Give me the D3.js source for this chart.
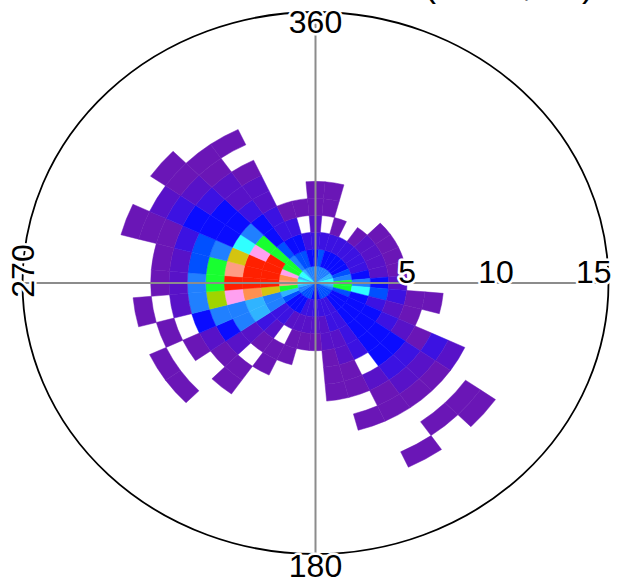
<!DOCTYPE html>
<html>
<head>
<meta charset="utf-8">
<script src="https://cdn.jsdelivr.net/npm/d3@7"></script>
<style>
  html, body { margin: 0; padding: 0; background: #fff; }
  svg { display: block; }
</style>
</head>
<body>
<svg id="chart" width="618" height="584"></svg>
<script>
// ---- data ----
const directions = [0,10,20,30,40,50,60,70,80,90,100,110,120,130,140,150,160,170,
                    180,190,200,210,220,230,240,250,260,270,280,290,300,310,320,330,340,350];
const binWidth = 15 / 16;          // radial bin width (speed units)
const sectorWidth = 10;            // degrees
const radialTicks = [5, 10, 15];
const compassLabels = ["360", "270", "180"];
const compassAngles = [0, 270, 180];
const titleText = "(knots, dir)";
// colour level of every (direction, speed-bin) cell; 0 = empty
const levels = [
  [7,4,3,2,1,1],
  [6,5,3,0,1,1],
  [6,4,3,1],
  [6,4,3],
  [6,4,3,1],
  [6,4,3,2,1],
  [7,4,3,2,1],
  [7,5,3,2,1],
  [8,6,4,2,1],
  [8,9,6,4,2],
  [7,9,8,5,3,1,1],
  [6,5,4,3,2,1],
  [5,4,4,4,3,2,1,3,2],
  [5,4,4,4,4,4,3,2,1,0,1,1],
  [5,4,4,4,4,4,3,2,1,0,1],
  [5,3,3,3,3,0,2,1,1,0,0,1],
  [5,3,3,2,2,1,1,0,1],
  [4,3,2,2,1,1,1],
  [4,3,2,1],
  [4,3,2,1],
  [5,3,2,1,1],
  [5,4,2,0,1,1],
  [5,4,3,2,1,0,1,1],
  [5,4,3,3,2,2,1,0,0,1],
  [6,5,6,7,6,4,2,1,0,1],
  [6,7,6,7,6,6,4,0,1],
  [7,9,11,12,14,10,6,2,0,1],
  [8,13,15,15,15,9,6,2,1],
  [8,12,15,15,13,9,5,2,1],
  [7,14,15,15,11,6,5,3,1,1,1],
  [8,9,15,14,8,4,4,4,3,2],
  [8,9,9,9,6,4,4,3,2,1,1],
  [7,6,5,4,4,3,2,2,1,1],
  [6,5,4,3,3,2,2,1,0,1],
  [6,5,4,3,1],
  [6,4,3,0,1]
];
const levelColors = ["#ffffff","#6a16b6","#5812c8","#3c12e2","#0a0cff","#0050ff","#2080ff",
  "#30b4ff","#30ffff","#18ff30","#a0d400","#d4c410","#ff9050","#ff9c84","#ffa0f0","#ff2000"];

// ---- layout ----
const cx = 315.5, cy = 283, rx = 293, ry = 271;
const svg = d3.select("#chart");
const r = d3.scaleLinear().domain([0, 15]).range([0, rx]);
const color = d3.scaleOrdinal().domain(d3.range(levelColors.length)).range(levelColors);
const toRad = d => d * Math.PI / 180;

const cells = [];
directions.forEach((dir, i) => {
  levels[i].forEach((v, k) => {
    if (v > 0) cells.push({dir, k, v});
  });
});

const arc = d3.arc()
  .innerRadius(d => r(d.k * binWidth))
  .outerRadius(d => r((d.k + 1) * binWidth))
  .startAngle(d => toRad(d.dir - sectorWidth / 2))
  .endAngle(d => toRad(d.dir + sectorWidth / 2));

const plot = svg.append("g")
  .attr("transform", `translate(${cx},${cy}) scale(1,${ry / rx})`);

plot.selectAll("path.cell")
  .data(cells)
  .join("path")
  .attr("class", "cell")
  .attr("d", arc)
  .attr("fill", d => color(d.v))
  .attr("stroke", d => color(d.v))
  .attr("stroke-width", 0.5);

// axes
const g = svg.append("g").attr("transform", `translate(${cx},${cy})`);
g.append("line").attr("x1", -rx).attr("x2", rx).attr("y1", 0).attr("y2", 0)
  .attr("stroke", "#8c8c8c").attr("stroke-width", 2);
g.append("line").attr("x1", 0).attr("x2", 0).attr("y1", -ry).attr("y2", ry)
  .attr("stroke", "#8c8c8c").attr("stroke-width", 2);
g.append("ellipse").attr("rx", rx).attr("ry", ry)
  .attr("fill", "none").attr("stroke", "#000").attr("stroke-width", 1.8);

const labelStyle = sel => sel
  .attr("font-family", "Liberation Sans, Arial, sans-serif")
  .attr("font-size", 32)
  .attr("fill", "#000")
  .attr("stroke", "#fff")
  .attr("stroke-width", 5)
  .attr("stroke-linejoin", "round")
  .attr("paint-order", "stroke");

// radial tick labels
g.selectAll("text.rt").data(radialTicks).join("text")
  .attr("class", "rt")
  .attr("x", d => r(d) + 3)
  .attr("y", 0)
  .attr("text-anchor", "end")
  .text(d => d)
  .call(labelStyle);

// compass labels
const comp = compassLabels.map((t, i) => ({t, a: compassAngles[i]}));
g.selectAll("text.cp").data(comp).join("text")
  .attr("class", "cp")
  .attr("text-anchor", "middle")
  .attr("transform", d => {
    if (d.a === 0) return `translate(0,${-ry + 21})`;
    if (d.a === 180) return `translate(0,${ry + 23})`;
    return `translate(${-rx + 11},${-12}) rotate(-90)`;
  })
  .text(d => d.t)
  .call(labelStyle);

// title (clipped at the top edge, as in the reference)
svg.append("text")
  .attr("x", 424).attr("y", -4)
  .attr("font-family", "Liberation Sans, Arial, sans-serif")
  .attr("font-size", 36)
  .text(titleText);
</script>
</body>
</html>
